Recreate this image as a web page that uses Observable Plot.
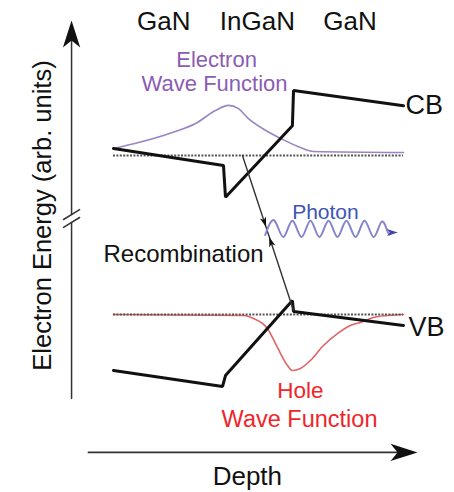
<!DOCTYPE html>
<html>
<head>
<meta charset="utf-8">
<script src="https://cdn.jsdelivr.net/npm/d3@7"></script>
<script src="https://cdn.jsdelivr.net/npm/@observablehq/plot@0.6"></script>
<style>
  html, body { margin: 0; padding: 0; background: #fff; }
</style>
</head>
<body>
<div id="chart"></div>
<script>
// Band diagram of a GaN / InGaN / GaN quantum well.
// Depth and energy are arbitrary units.

const layerNames = ["GaN", "InGaN", "GaN"];
const layerLabelDepth = [2.25, 6.45, 10.6];

// Conduction band edge
const cbDepth  = [0, 4.93, 5.02, 8.02, 8.07, 13];
const cbEnergy = [8.35, 7.5, 5.9, 9.5, 11.27, 10.5];

// Valence band edge
const vbDepth  = [0, 4.89, 5.02, 8.02, 8.07, 13];
const vbEnergy = [-2.82, -3.62, -3.07, 0.7, 0.15, -0.55];

// Flat-band reference levels (CB, VB)
const referenceLevels = [8, 0];

// Electron wave function (drawn on the CB reference)
const electronDepth  = [0, 1.12, 2.64, 3.68, 4.57, 5.15, 5.6, 6.05, 6.68, 7.49, 8.38, 8.96, 13];
const electronEnergy = [8.35, 8.65, 9.16, 9.61, 10.26, 10.52, 10.36, 9.86, 9.36, 8.86, 8.4, 8.2, 8.15];

// Hole wave function (drawn on the VB reference)
const holeDepth  = [0, 5.83, 6.28, 6.9, 7.35, 7.8, 8.02, 8.38, 8.83, 9.41, 10.04, 10.62, 11.07, 11.65, 12.28, 13];
const holeEnergy = [0, -0.05, -0.2, -0.7, -1.66, -2.57, -2.82, -2.72, -2.31, -1.56, -0.96, -0.55, -0.4, -0.15, -0.05, 0];

// Recombination path from the CB well to the VB
const recombDepth  = [5.78, 8.07];
const recombEnergy = [8.0, 0.2];

// Emitted photon (wavy path, crests and troughs)
const photonDepth  = [6.8, 7.22, 7.62, 8.02, 8.43, 8.83, 9.23, 9.64, 10.04, 10.44, 10.85, 11.25, 11.65, 12.01, 12.3, 12.45];
const photonEnergy = [4.0, 4.72, 3.9, 4.72, 3.9, 4.72, 3.9, 4.72, 3.9, 4.72, 3.9, 4.72, 3.9, 4.66, 4.14, 4.13];

// Scale geometry
const xDomain = [0, 13], xRange = [113, 403];
const yDomain = [0, 8],  yRange = [314, 155];
const kx = (xRange[1] - xRange[0]) / (xDomain[1] - xDomain[0]);
const ky = (yRange[1] - yRange[0]) / (yDomain[1] - yDomain[0]);

const pts = (xs, ys) => xs.map((x, i) => ({x, y: ys[i]}));

// Notched arrowhead symbol: tip at the origin, pointing up
const stealth = {
  draw(context, size) {
    const r = Math.sqrt(size / Math.PI);
    context.moveTo(0, 0);
    context.lineTo(-0.32 * r, r);
    context.lineTo(0, 0.74 * r);
    context.lineTo(0.32 * r, r);
    context.closePath();
  }
};

// Clockwise rotation (degrees) for an arrowhead travelling from → to
const heading = (from, to) =>
  Math.atan2((to.x - from.x) * kx, -(to.y - from.y) * ky) * 180 / Math.PI;

// Axis geometry
const yAxisDepth = -1.88;
const yAxisLower = [-4.23, 4.63];
const yAxisUpper = [5.03, 14.3];
const yAxisTop = 14.79;
const breakSlashes = [
  [{x: -2.24, y: 4.78}, {x: -1.52, y: 5.28}],
  [{x: -2.24, y: 4.38}, {x: -1.52, y: 4.88}]
];
const xAxisEnergy = -6.94;
const xAxisSpan = [-1.12, 13.2];
const xAxisTip = 13.63;

const withHeading = list => list.map(d => ({...d, angle: heading(d.from, d)}));

const axisHeads = withHeading([
  {x: yAxisDepth, y: yAxisTop, from: {x: yAxisDepth, y: 0}},
  {x: xAxisTip, y: xAxisEnergy, from: {x: 0, y: xAxisEnergy}}
]);
const photonHead = withHeading([
  {x: 12.75, y: 4.13, from: {x: 12.3, y: 4.13}}
]);
const recombHeads = withHeading([
  {x: 6.84, y: 4.4, from: {x: recombDepth[0], y: recombEnergy[0]}},
  {x: 6.98, y: 3.9, from: {x: recombDepth[1], y: recombEnergy[1]}}
]);

const font = "'Liberation Sans', Arial, Helvetica, sans-serif";

const chart = Plot.plot({
  width: 454,
  height: 492,
  margin: 0,
  x: {domain: xDomain, range: xRange, axis: null},
  y: {domain: yDomain, range: yRange, axis: null},
  style: {fontFamily: font, background: "#fff", overflow: "visible"},
  marks: [
    // axes
    Plot.line([{x: yAxisDepth, y: yAxisLower[0]}, {x: yAxisDepth, y: yAxisLower[1]}], {x: "x", y: "y", stroke: "#333", strokeWidth: 1.5}),
    Plot.line([{x: yAxisDepth, y: yAxisUpper[0]}, {x: yAxisDepth, y: yAxisUpper[1]}], {x: "x", y: "y", stroke: "#333", strokeWidth: 1.5}),
    ...breakSlashes.map(s => Plot.line(s, {x: "x", y: "y", stroke: "#333", strokeWidth: 1.5})),
    Plot.line([{x: xAxisSpan[0], y: xAxisEnergy}, {x: xAxisSpan[1], y: xAxisEnergy}], {x: "x", y: "y", stroke: "#333", strokeWidth: 1.8}),

    // wave functions
    Plot.line(pts(holeDepth, holeEnergy), {x: "x", y: "y", stroke: "#e36464", strokeWidth: 1.6, curve: "monotone-x"}),
    Plot.line(pts(electronDepth, electronEnergy), {x: "x", y: "y", stroke: "#9a84c4", strokeWidth: 1.6, curve: "monotone-x"}),

    // flat-band references
    Plot.ruleY(referenceLevels, {x1: xDomain[0], x2: xDomain[1], stroke: "#555", strokeWidth: 2, strokeDasharray: "2,1.4"}),

    // band edges
    Plot.line(pts(cbDepth, cbEnergy), {x: "x", y: "y", stroke: "#111", strokeWidth: 3, strokeLinejoin: "miter"}),
    Plot.line(pts(vbDepth, vbEnergy), {x: "x", y: "y", stroke: "#111", strokeWidth: 3, strokeLinejoin: "miter"}),

    // recombination and photon
    Plot.line(pts(recombDepth, recombEnergy), {x: "x", y: "y", stroke: "#333", strokeWidth: 1.4}),
    Plot.line(pts(photonDepth, photonEnergy), {x: "x", y: "y", stroke: "#8585cc", strokeWidth: 2, curve: "natural"}),

    // arrowheads
    Plot.dot(axisHeads, {x: "x", y: "y", r: 27, rotate: "angle", fill: "#111", stroke: "none", symbol: stealth}),
    Plot.dot(photonHead, {x: "x", y: "y", r: 11, rotate: "angle", fill: "#4646a8", stroke: "none", symbol: stealth}),
    Plot.dot(recombHeads, {x: "x", y: "y", r: 10, rotate: "angle", fill: "#111", stroke: "none", symbol: stealth}),

    // labels
    Plot.text(layerNames.map((t, i) => ({t, x: layerLabelDepth[i]})), {x: "x", y: 14.74, text: "t", fontSize: 26, fill: "#111"}),
    Plot.text(["Electron", "Wave Function"], {x: [4.62, 4.53], y: [12.83, 11.62], text: d => d, fontSize: 22, fill: "#8a5cb4"}),
    Plot.text(["Hole"], {x: 8.38, y: -3.82, text: d => d, fontSize: 22.5, fill: "#f0252a"}),
    Plot.text(["Wave Function"], {x: 8.34, y: -5.28, text: d => d, fontSize: 23.5, fill: "#f0252a"}),
    Plot.text(["CB"], {x: 13.09, y: 10.52, text: d => d, fontSize: 27, textAnchor: "start", fill: "#111"}),
    Plot.text(["VB"], {x: 13.22, y: -0.65, text: d => d, fontSize: 27, textAnchor: "start", fill: "#111"}),
    Plot.text(["Photon"], {x: 9.5, y: 5.13, text: d => d, fontSize: 21, fill: "#3d55b5"}),
    Plot.text(["Recombination"], {x: 3.14, y: 3.02, text: d => d, fontSize: 24, fill: "#111"}),
    Plot.text(["Depth"], {x: 6.0, y: -8.15, text: d => d, fontSize: 26, fill: "#111"}),
    Plot.text(["Electron Energy (arb. units)"], {x: -3.18, y: 4.98, text: d => d, fontSize: 25.5, rotate: -90, fill: "#111"})
  ]
});

document.getElementById("chart").appendChild(chart);
</script>
</body>
</html>
